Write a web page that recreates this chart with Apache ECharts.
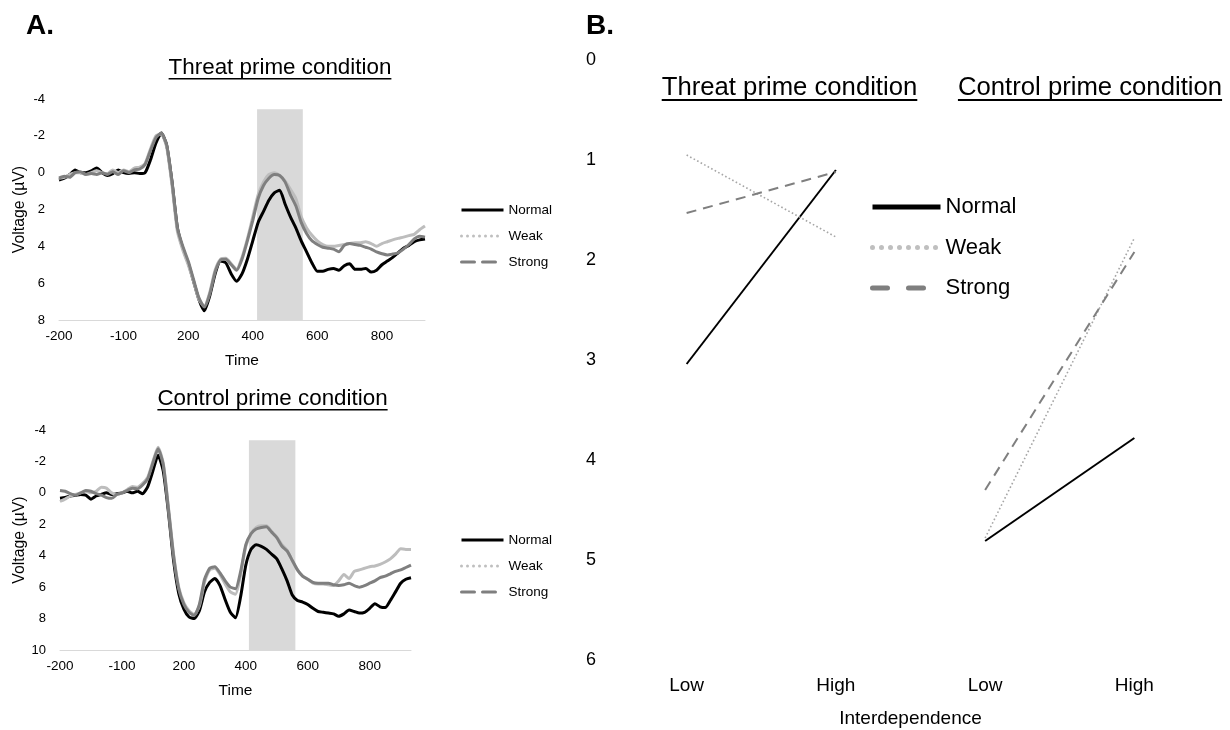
<!DOCTYPE html>
<html>
<head>
<meta charset="utf-8">
<script src="https://cdn.jsdelivr.net/npm/echarts@6/dist/echarts.min.js"></script>
<style>
  html, body { margin: 0; padding: 0; background: #fff; }
  #chart { width: 1230px; height: 730px; }
</style>
</head>
<body>
<div id="chart"></div>
<script>
// ---- Panel A: ERP waveforms, one value per sample (sample index on the x axis) ----
const timeTickLabels = ['-200', '-100', '200', '400', '600', '800'];
const samplesPerTick = 12;
const sampleCount = 69;

const threatNormal = [0.4, 0.3, 0.1, -0.15, 0.0, 0.0, -0.1, -0.25, 0.0, 0.15, 0.05, -0.15, 0.0, 0.05, 0.0, 0.05, 0.0,
  -0.7, -1.6, -2.15, -1.5, 0.5, 3.0, 4.1, 4.9, 5.9, 6.9, 7.5, 6.7, 5.5, 4.8, 4.9, 5.5, 5.9,
  5.5, 4.7, 3.7, 2.7, 2.1, 1.5, 1.1, 0.95, 1.7, 2.4, 3.0, 3.7, 4.3, 4.9, 5.35, 5.35, 5.25,
  5.2, 5.3, 5.05, 4.95, 5.25, 5.25, 5.2, 5.4, 5.3, 5.0, 4.8, 4.6, 4.35, 4.1, 3.95, 3.75, 3.65, 3.6];
const threatWeak = [0.3, 0.25, 0.1, 0.0, 0.0, 0.1, 0.0, -0.1, 0.0, 0.05, -0.15, 0.0, -0.15, -0.05, -0.25, -0.3, -0.5,
  -1.3, -2.0, -2.1, -1.4, 0.7, 3.2, 4.2, 5.0, 5.9, 6.9, 7.25, 6.5, 5.3, 4.7, 4.65, 4.95, 5.25,
  4.6, 3.6, 2.4, 1.2, 0.5, 0.1, 0.0, 0.15, 0.45, 0.9, 1.4, 2.4, 3.0, 3.4, 3.7, 3.9, 4.0,
  4.0, 3.95, 3.9, 3.85, 3.8, 3.8, 3.75, 3.85, 4.0, 3.85, 3.75, 3.65, 3.57, 3.5, 3.42, 3.35, 3.1, 2.9];
const threatStrong = [0.3, 0.2, 0.25, 0.0, -0.05, 0.1, 0.05, 0.1, 0.0, 0.1, -0.05, 0.1, -0.1, 0.0, -0.15, -0.2, -0.45,
  -1.2, -1.9, -2.15, -1.5, 0.5, 3.0, 4.0, 4.8, 5.8, 6.8, 7.3, 6.6, 5.4, 4.75, 4.7, 5.0, 5.3,
  4.7, 3.7, 2.6, 1.4, 0.7, 0.3, 0.1, 0.15, 0.5, 1.2, 1.8, 2.7, 3.3, 3.7, 3.9, 4.05, 4.1,
  4.15, 4.3, 3.95, 3.85, 3.9, 3.95, 4.05, 4.15, 4.3, 4.4, 4.47, 4.42, 4.35, 4.15, 3.9, 3.6, 3.45, 3.5];

const controlNormal = [0.35, 0.3, 0.2, 0.15, 0.1, 0.15, 0.4, 0.2, 0.1, 0.0, 0.1, 0.05, 0.0, -0.1, 0.0, -0.1, 0.05,
  -0.4, -1.4, -2.4, -1.4, 1.2, 4.3, 6.4, 7.4, 7.9, 8.0, 7.5, 6.3, 5.7, 5.45, 5.9, 6.8, 7.6,
  7.95, 6.6, 4.6, 3.6, 3.3, 3.4, 3.6, 3.9, 4.2, 4.85, 5.6, 6.5, 6.85, 6.95, 7.1, 7.35, 7.55,
  7.6, 7.65, 7.7, 7.85, 7.7, 7.45, 7.55, 7.65, 7.6, 7.35, 7.05, 7.25, 7.3, 6.85, 6.3, 5.75, 5.5, 5.4];
const controlWeak = [0.55, 0.4, 0.2, 0.1, 0.0, -0.1, 0.0, -0.1, -0.35, -0.3, 0.0, 0.1, 0.0, -0.2, -0.4, -0.35, -0.6,
  -1.0, -2.0, -2.9, -1.9, 0.9, 3.9, 6.0, 7.0, 7.5, 7.75, 7.2, 5.7, 4.9, 4.8, 5.2, 5.8, 6.3,
  6.45, 5.2, 3.4, 2.6, 2.2, 2.1, 2.1, 2.45, 2.8, 3.3, 3.65, 4.3, 4.9, 5.3, 5.5, 5.75, 5.8,
  5.8, 5.85, 5.9, 5.6, 5.2, 5.45, 5.0, 4.9, 4.8, 4.7, 4.65, 4.55, 4.4, 4.2, 3.9, 3.55, 3.6, 3.6];
const controlStrong = [-0.15, -0.1, 0.05, 0.15, 0.0, -0.15, -0.1, 0.05, 0.15, 0.3, 0.35, 0.1, 0.0, -0.15, -0.3, -0.25, -0.5,
  -0.9, -1.9, -2.8, -1.8, 1.0, 4.0, 6.1, 7.1, 7.6, 7.8, 7.1, 5.5, 4.8, 4.7, 5.1, 5.6, 6.0,
  6.1, 5.0, 3.3, 2.6, 2.3, 2.2, 2.15, 2.5, 2.85, 3.4, 3.7, 4.3, 4.9, 5.3, 5.5, 5.7, 5.75,
  5.75, 5.75, 5.85, 5.9, 5.85, 5.75, 5.9, 6.0, 5.9, 5.75, 5.6, 5.4, 5.3, 5.15, 5.0, 4.9, 4.75, 4.6];

// analysis window (in samples) and the voltage span of its shading
const threatWindow = [36.8, 45.3];
const threatWindowV = [-3.45, 8];
const controlWindow = [36.6, 45.6];
const controlWindowV = [-3.35, 10];

// ---- Panel B: mean amplitudes by interdependence ----
const interdependence = ['Low', 'High', 'Low', 'High'];
const bThreatNormal = [3.04, 1.10];
const bThreatWeak = [0.95, 1.77];
const bThreatStrong = [1.53, 1.12];
const bControlNormal = [4.81, 3.78];
const bControlWeak = [4.78, 1.78];
const bControlStrong = [4.30, 1.92];

const FONT = "'Liberation Sans', Arial, Helvetica, sans-serif";

const indexed = arr => arr.map((v, i) => [i, v]);
const threatSide = arr => [arr[0], arr[1], null, null];
const controlSide = arr => [null, null, arr[0], arr[1]];

function waveXAxis(gridIndex) {
  return {
    type: 'value', gridIndex, min: 0, max: sampleCount - 1, interval: samplesPerTick,
    axisLine: { show: true, onZero: false, lineStyle: { color: '#d9d9d9', width: 1 } },
    axisTick: { show: false }, splitLine: { show: false },
    axisLabel: {
      color: '#000', fontSize: 13.5, margin: 9, fontFamily: FONT,
      formatter: v => timeTickLabels[Math.round(v / samplesPerTick)] ?? ''
    },
    name: 'Time', nameLocation: 'middle', nameGap: 33,
    nameTextStyle: { color: '#000', fontSize: 15.5, fontFamily: FONT }
  };
}
function waveYAxis(gridIndex, max) {
  return {
    type: 'value', gridIndex, min: -4, max, interval: 2, inverse: true,
    axisLine: { show: false }, axisTick: { show: false }, splitLine: { show: false },
    axisLabel: { color: '#000', fontSize: 13, margin: 14, fontFamily: FONT },
    name: 'Voltage (µV)', nameLocation: 'middle', nameRotate: 90, nameGap: 31,
    nameTextStyle: { color: '#000', fontSize: 15.8, fontFamily: FONT }
  };
}

const waveColors = { Normal: '#000000', Weak: '#bdbdbd', Strong: '#7f7f7f' };
function waveSeries(name, data, axisIndex, windowX, windowV) {
  const s = {
    name, type: 'line', xAxisIndex: axisIndex, yAxisIndex: axisIndex,
    data: indexed(data), symbol: 'none', smooth: 0.2,
    lineStyle: { color: waveColors[name], width: 3 },
    itemStyle: { color: waveColors[name] },
    silent: true, z: 3
  };
  if (windowX) {
    s.markArea = {
      silent: true, z: 1,
      itemStyle: { color: '#d9d9d9' },
      data: [[{ coord: [windowX[0], windowV[0]] }, { coord: [windowX[1], windowV[1]] }]]
    };
  }
  return s;
}

const bStyles = {
  Normal: { color: '#000000', width: 2, type: 'solid' },
  Weak: { color: '#a6a6a6', width: 1.6, type: [1.6, 2.4] },
  Strong: { color: '#7f7f7f', width: 2, type: [10, 7] }
};
function meanSeries(name, data) {
  return {
    name, type: 'line', xAxisIndex: 2, yAxisIndex: 2, data,
    symbol: 'none', silent: true, connectNulls: false,
    lineStyle: bStyles[name], itemStyle: { color: bStyles[name].color }
  };
}

// legend keys: line only, the marker dot is hidden
const hiddenMarker = { color: 'rgba(0,0,0,0)', opacity: 0, borderWidth: 0 };
function legendData(w, dotGap, dash) {
  return [
    { name: 'Normal', itemStyle: hiddenMarker, lineStyle: { color: '#000', width: w, type: 'solid' } },
    { name: 'Weak', itemStyle: hiddenMarker, lineStyle: { color: '#bfbfbf', width: w, type: [0, dotGap], cap: 'round' } },
    { name: 'Strong', itemStyle: hiddenMarker, lineStyle: { color: '#7f7f7f', width: w, type: dash, cap: 'round' } }
  ];
}
function smallLegend(top) {
  return {
    orient: 'vertical', left: 460, top, padding: 0, itemWidth: 42, itemHeight: 14, itemGap: 12,
    selectedMode: false,
    textStyle: { color: '#000', fontSize: 13.5, fontFamily: FONT },
    data: legendData(3, 6, [13, 8])
  };
}

// titles with an underline sized from the rendered text width
const measureCtx = document.createElement('canvas').getContext('2d');
function underlinedTitle(text, cx, cy, size, lineOffset, lineWidth) {
  measureCtx.font = size + 'px ' + FONT;
  const w = measureCtx.measureText(text).width;
  return [
    {
      type: 'text', x: cx, y: cy, silent: true,
      style: { text, fill: '#000', font: size + 'px ' + FONT, textAlign: 'center', textVerticalAlign: 'middle' }
    },
    {
      type: 'rect', silent: true,
      shape: { x: cx - w / 2, y: cy + lineOffset, width: w, height: lineWidth },
      style: { fill: '#000' }
    }
  ];
}

const gridBase = { containLabel: false, outerBoundsMode: 'none' };

const option = {
  backgroundColor: '#ffffff',
  animation: false,
  textStyle: { fontFamily: FONT },
  grid: [
    { ...gridBase, left: 59, top: 99, width: 366, height: 221 },
    { ...gridBase, left: 60, top: 430, width: 351, height: 220 },
    { ...gridBase, left: 612, top: 60, width: 597, height: 600 }
  ],
  xAxis: [
    waveXAxis(0),
    waveXAxis(1),
    {
      type: 'category', gridIndex: 2, data: interdependence, boundaryGap: true,
      axisLine: { show: false }, axisTick: { show: false }, splitLine: { show: false },
      axisLabel: { color: '#000', fontSize: 19, margin: 16, fontFamily: FONT },
      name: 'Interdependence', nameLocation: 'middle', nameGap: 49,
      nameTextStyle: { color: '#000', fontSize: 19, fontFamily: FONT }
    }
  ],
  yAxis: [
    waveYAxis(0, 8),
    waveYAxis(1, 10),
    {
      type: 'value', gridIndex: 2, min: 0, max: 6, interval: 1, inverse: true,
      axisLine: { show: false }, axisTick: { show: false }, splitLine: { show: false },
      axisLabel: { color: '#000', fontSize: 18, margin: 16, fontFamily: FONT }
    }
  ],
  legend: [
    smallLegend(203),
    smallLegend(533),
    {
      orient: 'vertical', left: 870, top: 196, padding: 0, itemWidth: 68, itemHeight: 22, itemGap: 18.5,
      selectedMode: false,
      textStyle: { color: '#000', fontSize: 22, fontFamily: FONT },
      data: legendData(5, 9, [15, 21])
    }
  ],
  series: [
    waveSeries('Normal', threatNormal, 0, threatWindow, threatWindowV),
    waveSeries('Weak', threatWeak, 0),
    waveSeries('Strong', threatStrong, 0),
    waveSeries('Normal', controlNormal, 1, controlWindow, controlWindowV),
    waveSeries('Weak', controlWeak, 1),
    waveSeries('Strong', controlStrong, 1),
    meanSeries('Normal', threatSide(bThreatNormal)),
    meanSeries('Weak', threatSide(bThreatWeak)),
    meanSeries('Strong', threatSide(bThreatStrong)),
    meanSeries('Normal', controlSide(bControlNormal)),
    meanSeries('Weak', controlSide(bControlWeak)),
    meanSeries('Strong', controlSide(bControlStrong))
  ],
  graphic: [
    { type: 'text', x: 26, y: 26, silent: true,
      style: { text: 'A.', fill: '#000', font: 'bold 28px ' + FONT, textVerticalAlign: 'middle' } },
    { type: 'text', x: 586, y: 26, silent: true,
      style: { text: 'B.', fill: '#000', font: 'bold 28px ' + FONT, textVerticalAlign: 'middle' } },
    ...underlinedTitle('Threat prime condition', 280, 68, 22.4, 10, 1.6),
    ...underlinedTitle('Control prime condition', 272.5, 399, 22.4, 10, 1.6),
    ...underlinedTitle('Threat prime condition', 789.5, 87.5, 25.7, 11.5, 2),
    ...underlinedTitle('Control prime condition', 1090, 87.5, 25.7, 11.5, 2)
  ]
};

const chart = echarts.init(document.getElementById('chart'), null, { renderer: 'canvas' });
chart.setOption(option);
</script>
</body>
</html>
